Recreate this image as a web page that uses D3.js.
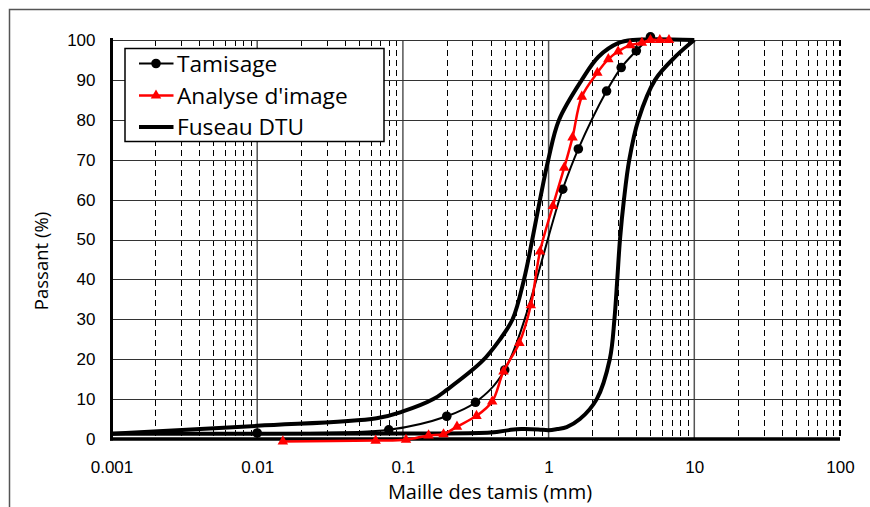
<!DOCTYPE html>
<html><head><meta charset="utf-8">
<script src="https://cdn.jsdelivr.net/npm/d3@7"></script>
<style>body{margin:0;background:#fff}svg{display:block}</style>
</head><body>
<svg id="c" width="870" height="507"></svg>
<script>
// ---- data ----
const xTickValues = [0.001, 0.01, 0.1, 1, 10, 100];
const xTickLabels = ["0.001", "0.01", "0.1", "1", "10", "100"];
const yTickValues = [0, 10, 20, 30, 40, 50, 60, 70, 80, 90, 100];
const seriesNames = ["Tamisage", "Analyse d'image", "Fuseau DTU"];

const tamX = [0.01, 0.08, 0.2, 0.315, 0.5, 1.25, 1.6, 2.5, 3.15, 4, 5];
const tamY = [1.5, 2.3, 5.7, 9.2, 17.3, 62.6, 72.7, 87.2, 93.1, 97.3, 100.8];

const imgX = [0.015, 0.065, 0.105, 0.15, 0.19, 0.235, 0.32, 0.41, 0.49, 0.63, 0.755, 0.873, 1.07, 1.28, 1.46, 1.69, 2.16, 2.57, 3.0, 3.62, 4.37, 5.0, 5.8, 6.7];
const imgY = [-0.6, -0.4, -0.2, 0.9, 1.2, 3.1, 5.8, 9.4, 16.9, 24.1, 33.5, 47, 58.4, 68, 75.6, 85.8, 91.8, 95.2, 97.1, 98.7, 99.3, 100, 100, 100];

const dtuUpX = [0.001, 0.01, 0.066, 0.1, 0.162, 0.2, 0.35, 0.46, 0.566, 0.678, 0.773, 0.873, 0.995, 1.18, 1.69, 2.2, 3.0, 3.8, 10];
const dtuUpY = [1.3, 3.3, 5.2, 6.9, 10, 12.3, 19.5, 24.8, 30, 40, 50, 60, 70, 80, 90, 95.8, 99.2, 100, 100];

const dtuLoX = [0.001, 0.1, 0.4, 0.55, 0.65, 0.85, 1.0, 1.15, 1.33, 1.64, 2.14, 2.63, 2.83, 2.96, 3.09, 3.29, 3.58, 4.13, 5.38, 7.5, 10];
const dtuLoY = [1.3, 1.4, 1.6, 2.3, 2.5, 2.4, 2.2, 2.5, 3, 5, 10, 20, 30, 40, 50, 60, 70, 80, 90, 96, 100];

// ---- layout ----
const svg = d3.select("#c");
const L = 111.5, R = 840, T = 40, B = 439;
const x = d3.scaleLog().domain([0.001, 100]).range([L, R]);
const y = d3.scaleLinear().domain([0, 100]).range([B, T]);
const crisp = v => Math.round(v) + 0.5;

// outer border
svg.append("rect").attr("x", 9.5).attr("y", 9.5).attr("width", 880).attr("height", 520)
  .attr("fill", "none").attr("stroke", "#555").attr("stroke-width", 1.5);

// minor dashed gridlines
const minor = [];
for (let e = -3; e < 2; e++) for (let k = 2; k <= 9; k++) minor.push(k * Math.pow(10, e));
const g = svg.append("g");
g.selectAll("line.minor").data(minor).join("line")
  .attr("x1", d => crisp(x(d))).attr("x2", d => crisp(x(d))).attr("y1", T).attr("y2", B)
  .attr("stroke", "#000").attr("stroke-width", 1).attr("stroke-dasharray", "6,4");
// dashed right edge
g.append("line").attr("x1", x(100)).attr("x2", x(100)).attr("y1", T).attr("y2", B)
  .attr("stroke", "#000").attr("stroke-width", 2).attr("stroke-dasharray", "6,4");
// major vertical gridlines
g.selectAll("line.major").data([0.01, 0.1, 1, 10]).join("line")
  .attr("x1", d => x(d)).attr("x2", d => x(d)).attr("y1", T).attr("y2", B)
  .attr("stroke", "#555").attr("stroke-width", 1.5);
// horizontal gridlines
g.selectAll("line.h").data(yTickValues.slice(1)).join("line")
  .attr("x1", L).attr("x2", R).attr("y1", d => crisp(y(d))).attr("y2", d => crisp(y(d)))
  .attr("stroke", "#333").attr("stroke-width", 1.2);

// axes (D3 axes for labels)
const yAxis = d3.axisLeft(y).tickValues(yTickValues).tickSize(0).tickPadding(16).tickFormat(d3.format("d"));
const ya = svg.append("g").attr("transform", `translate(${L},0)`).call(yAxis);
ya.select(".domain").remove();
ya.selectAll("text").attr("font-family", "Liberation Sans, Arial, sans-serif").attr("font-size", 17).attr("fill", "#000");

const xAxis = d3.axisBottom(x).tickValues(xTickValues).tickSize(0).tickPadding(22)
  .tickFormat((d, i) => xTickLabels[i]);
const xa = svg.append("g").attr("transform", `translate(0,${B})`).call(xAxis);
xa.select(".domain").remove();
xa.selectAll("text").attr("font-family", "Liberation Sans, Arial, sans-serif").attr("font-size", 17).attr("fill", "#000");

// axis lines
svg.append("line").attr("x1", L).attr("x2", L).attr("y1", T - 2).attr("y2", B + 1.5)
  .attr("stroke", "#000").attr("stroke-width", 3);
svg.append("line").attr("x1", L - 1.5).attr("x2", R).attr("y1", B).attr("y2", B)
  .attr("stroke", "#000").attr("stroke-width", 3.5);

// titles
svg.append("text").attr("x", 490).attr("y", 499).attr("text-anchor", "middle")
  .attr("font-family", "Open Sans, sans-serif").attr("font-size", 20).text("Maille des tamis (mm)");
svg.append("text").attr("transform", "translate(48,261) rotate(-90)").attr("text-anchor", "middle")
  .attr("font-family", "Open Sans, sans-serif").attr("font-size", 18.5).text("Passant (%)");

// series
const line = d3.line().x(d => x(d[0])).y(d => y(d[1])).curve(d3.curveCatmullRom.alpha(0.5));
const zip = (a, b) => a.map((v, i) => [v, b[i]]);

[zip(dtuLoX, dtuLoY), zip(dtuUpX, dtuUpY)].forEach(pts => {
  svg.append("path").attr("d", line(pts)).attr("fill", "none").attr("stroke", "#000")
    .attr("stroke-width", 4).attr("stroke-linejoin", "round");
});

const tam = zip(tamX, tamY);
svg.append("path").attr("d", line(tam)).attr("fill", "none").attr("stroke", "#000").attr("stroke-width", 2);
svg.selectAll("circle.tam").data(tam).join("circle")
  .attr("cx", d => x(d[0])).attr("cy", d => y(d[1])).attr("r", 4.8).attr("fill", "#000");

const img = zip(imgX, imgY);
svg.append("path").attr("d", line(img)).attr("fill", "none").attr("stroke", "#ff0000").attr("stroke-width", 2.5);
const tri = d3.symbol().type(d3.symbolTriangle).size(48);
svg.selectAll("path.img").data(img).join("path")
  .attr("transform", d => `translate(${x(d[0])},${y(d[1])})`).attr("d", tri).attr("fill", "#ff0000");

// legend
const lg = svg.append("g");
lg.append("rect").attr("x", 125).attr("y", 48.5).attr("width", 259).attr("height", 93)
  .attr("fill", "#fff").attr("stroke", "#000").attr("stroke-width", 1.5);
const ly = [63.5, 95.5, 127];
seriesNames.forEach((name, i) => {
  const col = i === 1 ? "#ff0000" : "#000";
  lg.append("line").attr("x1", 139).attr("x2", 173.5).attr("y1", ly[i]).attr("y2", ly[i])
    .attr("stroke", col).attr("stroke-width", i === 2 ? 4 : (i === 1 ? 2.5 : 2));
  if (i === 0) lg.append("circle").attr("cx", 156).attr("cy", ly[i]).attr("r", 4.8).attr("fill", "#000");
  if (i === 1) lg.append("path").attr("transform", `translate(156,${ly[i]})`).attr("d", tri).attr("fill", "#ff0000");
  lg.append("text").attr("x", 177).attr("y", ly[i] + 8).attr("font-family", "Open Sans, sans-serif")
    .attr("font-size", 22.7).attr("fill", "#000").text(name);
});
</script>
</body></html>
